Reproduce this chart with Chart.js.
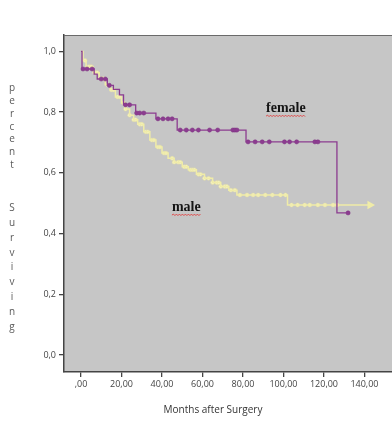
<!DOCTYPE html>
<html><head><meta charset="utf-8">
<script src="https://cdn.jsdelivr.net/npm/chart.js@4.4.1/dist/chart.umd.min.js"></script>
<style>html,body{margin:0;padding:0;background:#fff;overflow:hidden}#wrap{width:392px;height:423px;position:relative}</style>
</head><body><div id="wrap"><canvas id="c" width="392" height="423"></canvas></div>
<script>
// ---- data (months after surgery, cumulative proportion surviving) ----
const femaleTimes = [0, 0.5, 6.5, 8, 13, 16, 19, 21, 27, 37, 47.5, 81.5, 126.4, 131.9];
const femaleSurv  = [1.0, 0.942, 0.925, 0.909, 0.888, 0.875, 0.857, 0.824, 0.797, 0.778, 0.741, 0.702, 0.468, 0.468];
const femaleCensor = [1, 3, 5.5, 10, 12, 14, 22, 24, 27.5, 29, 31, 38, 40.5, 43, 45, 49, 52, 55, 58, 63.5, 67.5, 75, 76, 77, 82.5, 86, 89.5, 93, 100.5, 103, 106.5, 115.5, 117, 131.9];

const maleTimes = [0, 1, 2.5, 6, 9, 12, 14.5, 17, 20, 22, 24, 26, 28, 31, 34, 37, 40, 43, 46, 50, 53, 57, 61, 65, 69, 73, 77, 102, 142.7];
const maleSurv  = [1.0, 0.97, 0.95, 0.93, 0.91, 0.89, 0.873, 0.85, 0.83, 0.81, 0.79, 0.775, 0.76, 0.735, 0.708, 0.685, 0.665, 0.648, 0.635, 0.62, 0.61, 0.595, 0.582, 0.568, 0.555, 0.543, 0.527, 0.494, 0.494];
const maleCensor = [2, 4, 5, 7, 8, 10, 11, 13, 15, 16, 18, 19, 21, 22, 24, 26, 27, 29, 30, 32, 33, 35, 36, 38, 39, 41, 42, 45, 46, 48, 49, 51, 52, 54, 55, 56, 58, 59, 61, 63, 65, 67, 68, 69, 71, 72, 74, 76, 78.5, 82, 85, 87.5, 91, 94.5, 98.5, 101, 104, 107, 110.5, 113, 117, 120.5, 124.5, 126.5];

const xTickValues = [0, 20, 40, 60, 80, 100, 120, 140];
const xTickLabels = [',00', '20,00', '40,00', '60,00', '80,00', '100,00', '120,00', '140,00'];
const yTickValues = [0, 0.2, 0.4, 0.6, 0.8, 1.0];
const yTickLabels = ['0,0', '0,2', '0,4', '0,6', '0,8', '1,0'];

const xTitle = 'Months after Surgery';
const yTitleWords = ['percent', 'Surviving'];
const seriesLabels = [{text: 'female', x: 91.4, y: 0.80}, {text: 'male', x: 44.9, y: 0.474}];

// ---- helpers ----
function stepAt(times, surv, t) {
  let v = surv[0];
  for (let i = 0; i < times.length; i++) { if (times[i] <= t) v = surv[i]; }
  return v;
}
const pts = (times, surv) => times.map((t, i) => ({x: t, y: surv[i]}));
const purple = '#8c3c90';
const yellow = '#f0eca8';

const maleLinePts = pts(maleTimes, maleSurv);
const maleStyles = maleLinePts.map((p, i) => i === maleLinePts.length - 1 ? 'triangle' : 'circle');
const maleRadii = maleLinePts.map((p, i) => i === maleLinePts.length - 1 ? 3.5 : 0);

const decor = {
  id: 'decor',
  beforeDraw(chart) {
    const {ctx, chartArea: a} = chart;
    ctx.save();
    ctx.fillStyle = '#c6c6c6';
    ctx.fillRect(a.left, a.top, chart.width - a.left, a.bottom - a.top);
    ctx.restore();
  },
  afterDraw(chart) {
    const {ctx, chartArea: a} = chart;
    const xs = chart.scales.x, ys = chart.scales.y;
    ctx.save();
    // top frame line
    ctx.strokeStyle = '#6a6a6a';
    ctx.lineWidth = 1;
    ctx.beginPath(); ctx.moveTo(a.left, a.top + 0.5); ctx.lineTo(chart.width, a.top + 0.5); ctx.stroke();
    // x-axis title
    ctx.fillStyle = '#333';
    ctx.font = '10px "Open Sans", sans-serif';
    ctx.textAlign = 'center';
    ctx.textBaseline = 'middle';
    ctx.fillText(xTitle, 213, 410);
    // vertical y-axis title (stacked letters)
    ctx.fillStyle = '#5a5a5a';
    ctx.font = '10px "Open Sans", sans-serif';
    const starts = [88, 208], gaps = [12.9, 14.9];
    yTitleWords.forEach((w, k) => {
      [...w].forEach((ch, i) => ctx.fillText(ch, 12, starts[k] + i * gaps[k]));
    });
    // series labels with red wavy underline
    ctx.font = 'bold 14px "Liberation Serif", "DejaVu Serif", serif';
    ctx.textAlign = 'left';
    ctx.textBaseline = 'alphabetic';
    seriesLabels.forEach(l => {
      const px = xs.getPixelForValue(l.x), py = ys.getPixelForValue(l.y);
      ctx.fillStyle = '#151515';
      ctx.fillText(l.text, px, py);
      const w = ctx.measureText(l.text).width;
      ctx.strokeStyle = '#e23a3a';
      ctx.lineWidth = 0.9;
      ctx.beginPath();
      let up = true;
      ctx.moveTo(px, py + 4);
      for (let x = px + 1.5; x <= px + w + 0.1; x += 1.5) { ctx.lineTo(x, py + (up ? 3 : 4.5)); up = !up; }
      ctx.stroke();
    });
    ctx.restore();
  }
};

new Chart(document.getElementById('c'), {
  type: 'line',
  data: {
    datasets: [
      { data: pts(femaleTimes, femaleSurv), borderColor: purple, borderWidth: 1.3, stepped: true, pointRadius: 0, fill: false },
      { type: 'scatter', data: femaleCensor.map(t => ({x: t, y: stepAt(femaleTimes, femaleSurv, t)})), pointStyle: 'circle', pointRadius: 2.1, backgroundColor: purple, borderColor: '#7a2f7e', borderWidth: 0.5, showLine: false },
      { data: maleLinePts, borderColor: yellow, borderWidth: 1.5, stepped: true, pointStyle: maleStyles, pointRadius: maleRadii, rotation: 90, backgroundColor: yellow, pointBorderColor: yellow, fill: false },
      { type: 'scatter', data: maleCensor.map(t => ({x: t, y: stepAt(maleTimes, maleSurv, t)})), pointStyle: 'circle', pointRadius: 1.9, backgroundColor: '#f5f2c6', borderColor: '#e6e09e', borderWidth: 0.6, showLine: false }
    ]
  },
  options: {
    responsive: false,
    devicePixelRatio: 1,
    animation: false,
    layout: { autoPadding: false, padding: { top: 35, left: 0, right: 0, bottom: 0 } },
    plugins: { legend: { display: false }, tooltip: { enabled: false } },
    scales: {
      x: {
        type: 'linear', min: -8.4, max: 153.6,
        afterBuildTicks: s => { s.ticks = xTickValues.map(v => ({value: v})); },
        afterFit: s => { s.height = 51; s.paddingLeft = 0; s.paddingRight = 0; },
        ticks: { autoSkip: false, maxRotation: 0, padding: 2, color: '#444', font: { family: 'Open Sans', size: 9 },
          callback: (v) => { const i = xTickValues.indexOf(v); return i >= 0 ? xTickLabels[i] : ''; } },
        grid: { drawOnChartArea: false, drawTicks: true, tickLength: 5, color: '#444', lineWidth: 1.3 },
        border: { display: true, color: '#444', width: 1.5 }
      },
      y: {
        type: 'linear', min: -0.056, max: 1.054,
        afterBuildTicks: s => { s.ticks = yTickValues.map(v => ({value: v})); },
        afterFit: s => { s.width = 64; s.paddingTop = 0; s.paddingBottom = 0; },
        ticks: { autoSkip: false, padding: 3, color: '#444', font: { family: 'Open Sans', size: 9 },
          callback: (v) => { const i = yTickValues.findIndex(t => Math.abs(t - v) < 1e-9); return i >= 0 ? yTickLabels[i] : ''; } },
        grid: { drawOnChartArea: false, drawTicks: true, tickLength: 5, color: '#444', lineWidth: 1.3 },
        border: { display: true, color: '#444', width: 1.5 }
      }
    }
  },
  plugins: [decor]
});
</script>
</body></html>
